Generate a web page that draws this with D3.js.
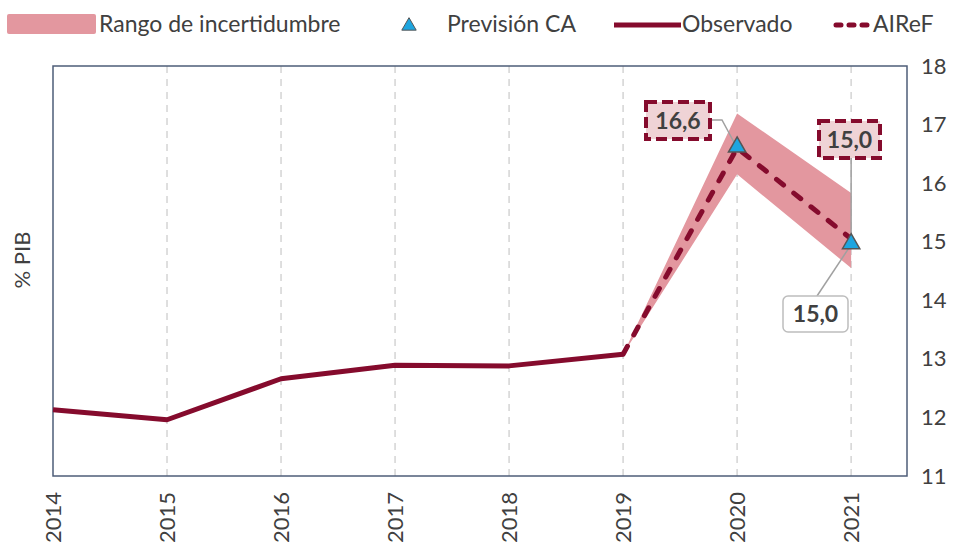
<!DOCTYPE html>
<html>
<head>
<meta charset="utf-8">
<script src="https://cdn.jsdelivr.net/npm/d3@7"></script>
<style>
  body { margin: 0; background: #fff; }
  text { font-family: Lato, "Open Sans", sans-serif; fill: #404040; }
</style>
</head>
<body>
<div id="chart"></div>
<script>
// data
var years = [2014, 2015, 2016, 2017, 2018, 2019, 2020, 2021];
var observado = [12.13, 11.96, 12.66, 12.89, 12.88, 13.08];
var airefYears = [2019, 2020, 2021];
var airef = [13.08, 16.6, 15.05];
var bandLow = [13.08, 16.15, 14.55];
var bandHigh = [13.08, 17.19, 15.83];
var caYears = [2020, 2021];
var prevCA = [16.6, 14.95];
var yTicks = [11, 12, 13, 14, 15, 16, 17, 18];

var width = 964, height = 545;
var margin = {left: 53, right: 57, top: 66, bottom: 69};
var red = "#850b2d";

var svg = d3.select("#chart").append("svg")
    .attr("width", width).attr("height", height);

var x = d3.scaleLinear().domain([2014, 2021.49]).range([margin.left, width - margin.right]);
var y = d3.scaleLinear().domain([11, 18]).range([height - margin.bottom, margin.top]);

// vertical dashed grid
svg.selectAll(".grid").data(years.slice(1)).enter().append("line")
    .attr("x1", function (d) { return x(d); }).attr("x2", function (d) { return x(d); })
    .attr("y1", y(18)).attr("y2", y(11))
    .attr("stroke", "#d4d4d4").attr("stroke-width", 1.5)
    .attr("stroke-dasharray", "7,6");

// plot frame
svg.append("rect")
    .attr("x", x(2014)).attr("y", y(18))
    .attr("width", x(2021.49) - x(2014)).attr("height", y(11) - y(18))
    .attr("fill", "none").attr("stroke", "#4e5d78").attr("stroke-width", 1.5);

// right axis
var yAxis = svg.append("g")
    .attr("transform", "translate(" + (width - margin.right) + ",0)")
    .call(d3.axisRight(y).tickValues(yTicks).tickFormat(d3.format("d")).tickSize(0).tickPadding(14));
yAxis.select(".domain").remove();
yAxis.selectAll("text").style("font-size", "22px").attr("fill", "#404040")
    .style("font-family", "Lato, sans-serif");

// x axis labels rotated
var xAxis = svg.append("g")
    .attr("transform", "translate(0," + y(11) + ")")
    .call(d3.axisBottom(x).tickValues(years).tickFormat(d3.format("d")).tickSize(0));
xAxis.select(".domain").remove();
xAxis.selectAll("text")
    .style("font-size", "22px").style("font-family", "Lato, sans-serif").attr("fill", "#404040")
    .attr("transform", "rotate(-90)")
    .attr("x", -16).attr("y", 0).attr("dy", "0.35em")
    .style("text-anchor", "end");

// y label
svg.append("text")
    .attr("transform", "translate(30,260) rotate(-90)")
    .style("text-anchor", "middle").style("font-size", "22px")
    .text("% PIB");

// band
var bandData = airefYears.map(function (d, i) { return {x: d, lo: bandLow[i], hi: bandHigh[i]}; });
svg.append("path").datum(bandData)
    .attr("fill", "#e3979f")
    .attr("d", d3.area()
        .x(function (d) { return x(d.x); })
        .y0(function (d) { return y(d.lo); })
        .y1(function (d) { return y(d.hi); }));

var line = d3.line()
    .x(function (d) { return x(d[0]); })
    .y(function (d) { return y(d[1]); });

// observado
svg.append("path")
    .datum(years.slice(0, observado.length).map(function (d, i) { return [d, observado[i]]; }))
    .attr("fill", "none").attr("stroke", red).attr("stroke-width", 5)
    .attr("stroke-linejoin", "round")
    .attr("d", line);

// airef dashed
svg.append("path")
    .datum(airefYears.map(function (d, i) { return [d, airef[i]]; }))
    .attr("fill", "none").attr("stroke", red).attr("stroke-width", 5)
    .attr("stroke-dasharray", "9,13").attr("stroke-linecap", "round")
    .attr("d", line);

// connector lines
svg.append("polyline")
    .attr("points", [[710, 120], [722, 120], [x(2020), y(prevCA[0])]].join(" "))
    .attr("fill", "none").attr("stroke", "#a0a0a0").attr("stroke-width", 1.5);
svg.append("line")
    .attr("x1", x(2021)).attr("y1", 158).attr("x2", x(2021)).attr("y2", y(airef[2]))
    .attr("stroke", "#a0a0a0").attr("stroke-width", 1.5);
svg.append("line")
    .attr("x1", 817).attr("y1", 296).attr("x2", x(2021)).attr("y2", y(prevCA[1]))
    .attr("stroke", "#a0a0a0").attr("stroke-width", 1.5);

// triangles
svg.selectAll(".tri").data(caYears).enter().append("path")
    .attr("d", d3.symbol().type(d3.symbolTriangle).size(130))
    .attr("transform", function (d, i) { return "translate(" + x(d) + "," + (y(prevCA[i]) - 1) + ")"; })
    .attr("fill", "#1ea5df").attr("stroke", "#555").attr("stroke-width", 1.5);

function box(bx, by, bw, bh, txt, dashed) {
    var g = svg.append("g");
    g.append("rect")
        .attr("x", bx).attr("y", by).attr("width", bw).attr("height", bh)
        .attr("rx", dashed ? 0 : 5)
        .attr("fill", dashed ? "#efd3d6" : "#fff")
        .attr("stroke", dashed ? red : "#bdbdbd")
        .attr("stroke-width", dashed ? 4 : 1.5)
        .attr("stroke-dasharray", dashed ? "11,5" : null);
    g.append("text")
        .attr("x", bx + bw / 2).attr("y", by + bh / 2).attr("dy", "0.36em")
        .style("text-anchor", "middle").style("font-size", "23px").style("font-weight", "bold")
        .text(txt);
}
box(646, 102, 64, 37, "16,6", true);
box(819, 121, 61, 37, "15,0", true);
box(783, 296, 65, 36, "15,0", false);

// legend
var leg = svg.append("g");
leg.append("rect").attr("x", 7).attr("y", 14).attr("width", 89).attr("height", 20)
    .attr("fill", "#e3979f").attr("rx", 2);
leg.append("text").attr("x", 99).attr("y", 24).attr("dy", "0.35em")
    .style("font-size", "23px").text("Rango de incertidumbre");
leg.append("path")
    .attr("d", d3.symbol().type(d3.symbolTriangle).size(90))
    .attr("transform", "translate(409,26)")
    .attr("fill", "#1ea5df").attr("stroke", "#555").attr("stroke-width", 1);
leg.append("text").attr("x", 447).attr("y", 24).attr("dy", "0.35em")
    .style("font-size", "23px").text("Previsión CA");
leg.append("line").attr("x1", 614).attr("x2", 681).attr("y1", 25).attr("y2", 25)
    .attr("stroke", red).attr("stroke-width", 5);
leg.append("text").attr("x", 682).attr("y", 24).attr("dy", "0.35em")
    .style("font-size", "23px").text("Observado");
leg.append("line").attr("x1", 836).attr("x2", 868).attr("y1", 25).attr("y2", 25)
    .attr("stroke", red).attr("stroke-width", 5).attr("stroke-dasharray", "5,8")
    .attr("stroke-linecap", "round");
leg.append("text").attr("x", 873).attr("y", 24).attr("dy", "0.35em")
    .style("font-size", "23px").text("AIReF");
</script>
</body>
</html>
